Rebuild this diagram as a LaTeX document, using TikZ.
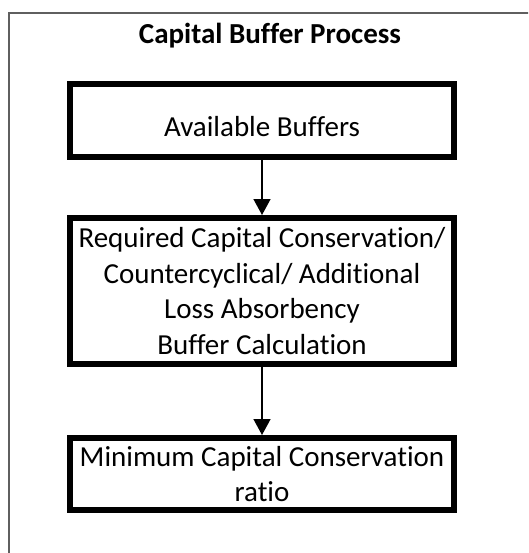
\documentclass[tikz,border=0pt]{standalone}
\usepackage{fontspec}
\setmainfont{Carlito}[Ligatures=NoCommon]
\usetikzlibrary{arrows.meta,positioning}
\definecolor{frameink}{RGB}{95,95,95}
\tikzset{
  stepbox/.style={draw=black, line width=6pt, minimum width=384pt,
    inner sep=0pt, outer sep=0pt, align=center,
    font=\fontsize{29}{35.5}\selectfont},
  steparrow/.style={-{Triangle[length=16pt,width=17pt]}, line width=1.5pt,
    shorten <=3pt, shorten >=3pt},
}

\begin{document}
\begin{tikzpicture}[x=1pt,y=-1pt]
  \useasboundingbox (0,0) rectangle (528,553);
  \clip (0,0) rectangle (528,553);
  \draw[frameink, line width=1.2pt] (9,13) rectangle (600,620);
  \node[font=\bfseries\fontsize{29}{34}\selectfont] (title) at (270,36) {Capital Buffer Process};
  \node[stepbox, minimum height=73pt, text height=33pt] (avail) at (262,120.5) {Available Buffers};
  \node[stepbox, minimum height=146pt, below=61pt of avail] (req)
    {Required Capital Conservation/\\Countercyclical/ Additional\\Loss Absorbency\\Buffer Calculation};
  \node[stepbox, minimum height=72pt, below=74pt of req] (minratio)
    {Minimum Capital Conservation\\ratio};
  \draw[steparrow] (avail.south) -- (req.north);
  \draw[steparrow] (req.south) -- (minratio.north);
\end{tikzpicture}
\end{document}
